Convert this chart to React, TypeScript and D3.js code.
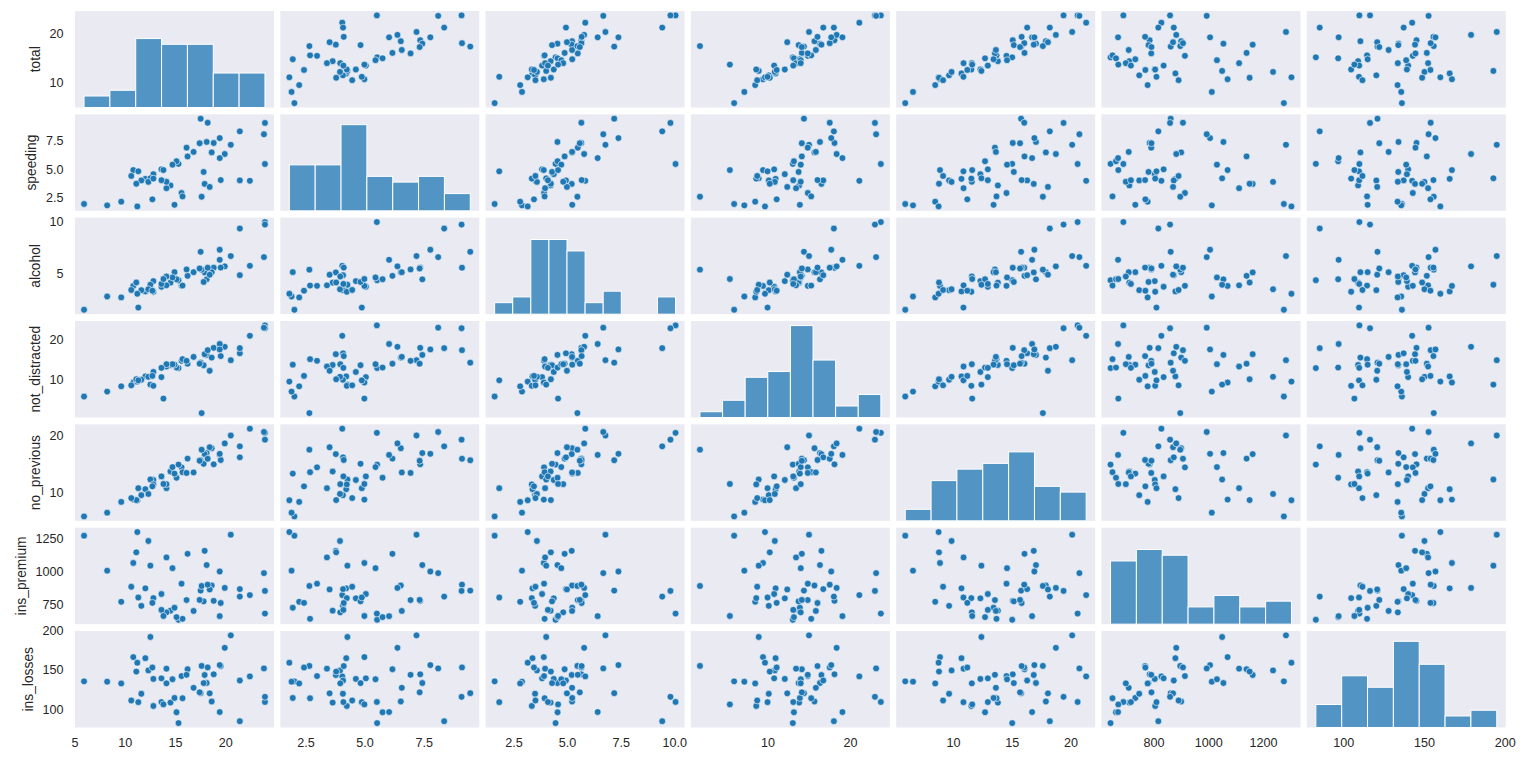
import React from "react";
import * as d3 from "d3";

const VARS = ["total", "speeding", "alcohol", "not_distracted", "no_previous", "ins_premium", "ins_losses"];

const total = [18.8, 18.1, 18.6, 22.4, 12.0, 13.6, 10.8, 16.2, 5.9, 17.9, 15.6, 17.5, 15.3, 12.8, 14.5, 15.7, 17.8, 21.4, 20.5, 15.1, 12.5, 8.2, 14.1, 9.6, 17.6, 16.1, 21.4, 14.9, 14.7, 11.6, 11.2, 18.4, 12.3, 16.8, 23.9, 14.1, 19.9, 12.8, 18.2, 11.1, 23.9, 19.4, 19.5, 19.4, 11.3, 13.6, 12.7, 10.6, 23.8, 13.8, 17.4];
const speeding = [7.332, 7.421, 6.51, 4.032, 4.2, 5.032, 4.968, 6.156, 2.006, 3.759, 2.964, 9.45, 5.508, 4.608, 3.625, 2.669, 4.806, 4.066, 7.175, 5.738, 4.25, 1.886, 3.384, 2.208, 2.64, 6.923, 8.346, 1.937, 5.439, 4.06, 1.792, 3.496, 3.936, 6.552, 5.497, 3.948, 6.368, 4.224, 9.1, 3.774, 9.082, 6.014, 4.095, 7.76, 4.859, 4.08, 2.413, 4.452, 8.092, 4.968, 7.308];
const alcohol = [5.64, 4.525, 5.208, 5.824, 3.36, 3.808, 3.888, 4.86, 1.593, 5.191, 3.9, 7.175, 4.437, 4.352, 4.205, 3.925, 4.272, 4.922, 6.765, 4.53, 4.0, 2.87, 3.948, 2.784, 5.456, 5.474, 9.416, 5.215, 4.704, 3.48, 3.136, 4.968, 3.567, 5.208, 10.038, 4.794, 5.771, 3.328, 5.642, 4.218, 9.799, 6.402, 5.655, 7.372, 1.808, 4.08, 3.429, 3.498, 6.664, 4.554, 5.568];
const notDistracted = [18.048, 16.29, 15.624, 21.056, 10.92, 10.744, 9.396, 14.094, 5.9, 16.468, 14.82, 14.35, 13.005, 12.032, 13.775, 15.229, 13.706, 16.692, 14.965, 13.137, 8.875, 7.134, 13.395, 8.448, 1.76, 14.812, 17.976, 13.857, 13.965, 10.092, 9.632, 12.328, 10.824, 15.792, 23.661, 13.959, 18.308, 8.576, 17.472, 10.212, 22.944, 19.012, 15.99, 17.654, 9.944, 13.056, 11.049, 8.692, 23.086, 5.382, 14.094];
const noPrevious = [15.04, 17.014, 17.856, 21.28, 10.68, 12.92, 8.856, 16.038, 5.9, 16.826, 14.508, 15.75, 14.994, 12.288, 13.775, 13.659, 15.13, 16.264, 20.09, 12.684, 12.375, 6.56, 10.857, 8.448, 17.6, 13.524, 18.19, 13.41, 14.553, 9.628, 8.736, 18.032, 9.84, 13.608, 20.554, 11.562, 18.706, 11.52, 16.016, 8.769, 19.359, 16.684, 15.795, 16.878, 10.848, 12.92, 11.176, 9.116, 20.706, 11.592, 15.66];
const insPremium = [784.55, 1053.48, 899.47, 827.34, 878.41, 835.5, 1068.73, 1137.87, 1273.89, 1160.13, 913.15, 861.18, 641.96, 803.11, 710.46, 649.06, 780.45, 872.51, 1281.55, 661.88, 1048.78, 1011.14, 1110.61, 777.18, 896.07, 790.32, 816.21, 732.28, 1029.87, 746.54, 1301.52, 869.85, 1234.31, 708.24, 688.75, 697.73, 881.51, 804.71, 905.99, 1148.99, 858.97, 669.31, 767.91, 1004.75, 809.38, 716.2, 768.95, 890.03, 992.61, 670.31, 791.14];
const insLosses = [145.08, 133.93, 110.35, 142.39, 165.63, 139.91, 167.02, 151.48, 136.05, 144.18, 142.8, 120.92, 82.75, 139.15, 108.92, 114.47, 133.8, 137.13, 194.78, 96.57, 192.7, 135.63, 152.26, 133.35, 155.77, 144.45, 85.15, 114.82, 138.71, 120.21, 159.85, 120.75, 150.01, 127.82, 109.72, 133.52, 178.86, 104.61, 153.86, 148.58, 116.29, 96.87, 155.57, 156.83, 109.48, 109.61, 153.72, 111.62, 152.56, 106.62, 122.04];

const COLUMNS = [total, speeding, alcohol, notDistracted, noPrevious, insPremium, insLosses];
const BIN_COUNTS = [7, 7, 10, 8, 7, 7, 7];

const X_TICKS = [[5, 10, 15, 20], [2.5, 5, 7.5], [2.5, 5, 7.5, 10], [10, 20], [10, 15, 20], [800, 1000, 1200], [100, 150, 200]];
const X_TICK_LABELS = [["5", "10", "15", "20"], ["2.5", "5.0", "7.5"], ["2.5", "5.0", "7.5", "10.0"], ["10", "20"], ["10", "15", "20"], ["800", "1000", "1200"], ["100", "150", "200"]];
const Y_TICKS = [[10, 20], [2.5, 5, 7.5], [5, 10], [10, 20], [10, 20], [750, 1000, 1250], [100, 150, 200]];
const Y_TICK_LABELS = [["10", "20"], ["2.5", "5.0", "7.5"], ["5", "10"], ["10", "20"], ["10", "20"], ["750", "1000", "1250"], ["100", "150", "200"]];

const W = 1536;
const H = 757;
const LEFT0 = 75;
const COL_PITCH = 205.3;
const COL_W = 199;
const TOP0 = 11;
const ROW_PITCH = 103.33;
const ROW_H = 96.5;
const BG = "#EAEAF2";
const BLUE = "#1f77b4";
const TEXT = "#262626";
const FONT = "Arial, 'Liberation Sans', sans-serif";
const FS = 12.6;
const LFS = 13.8;

function padDomain(v: number[]): [number, number] {
  const [mn, mx] = d3.extent(v) as [number, number];
  const p = (mx - mn) * 0.05;
  return [mn - p, mx + p];
}

function textWidth(s: string) {
  let w = 0;
  for (const c of s) w += c === "." ? 3.5 : 7;
  return w;
}

export default function App() {
  const n = VARS.length;
  const xScales = COLUMNS.map((v, j) =>
    d3.scaleLinear().domain(padDomain(v)).range([LEFT0 + j * COL_PITCH, LEFT0 + j * COL_PITCH + COL_W])
  );
  const yScales = COLUMNS.map((v, i) =>
    d3.scaleLinear().domain(padDomain(v)).range([TOP0 + i * ROW_PITCH + ROW_H, TOP0 + i * ROW_PITCH])
  );
  const hists = COLUMNS.map((v, j) => {
    const [mn, mx] = d3.extent(v) as [number, number];
    const k = BIN_COUNTS[j];
    const th = d3.range(1, k).map((i) => mn + (i * (mx - mn)) / k);
    return d3.bin().domain([mn, mx]).thresholds(th)(v);
  });
  const maxCount = d3.max(hists.flat(), (b) => b.length) as number;

  const panels: React.ReactNode[] = [];
  for (let i = 0; i < n; i++) {
    for (let j = 0; j < n; j++) {
      const x0 = LEFT0 + j * COL_PITCH;
      const y0 = TOP0 + i * ROW_PITCH;
      const xs = xScales[j];
      const ys = yScales[i];
      const key = `${i}-${j}`;
      let marks: React.ReactNode;
      if (i === j) {
        const hy = d3.scaleLinear().domain([0, maxCount * 1.05]).range([y0 + ROW_H, y0]);
        marks = hists[j].map((b, k) => (
          <rect
            key={k}
            x={xs(b.x0 as number)}
            y={hy(b.length)}
            width={xs(b.x1 as number) - xs(b.x0 as number)}
            height={hy(0) - hy(b.length)}
            fill={BLUE}
            fillOpacity={0.75}
            stroke="#ffffff"
            strokeWidth={1}
          />
        ));
      } else {
        const xv = COLUMNS[j];
        const yv = COLUMNS[i];
        marks = xv.map((xval, k) => (
          <circle key={k} cx={xs(xval)} cy={ys(yv[k])} r={3.4} fill={BLUE} stroke="#ffffff" strokeWidth={0.6} />
        ));
      }
      panels.push(
        <g key={key}>
          <rect x={x0} y={y0} width={COL_W} height={ROW_H} fill={BG} />
          {marks}
        </g>
      );
    }
  }

  const yAxes = VARS.map((name, i) => {
    const ys = yScales[i];
    const maxW = d3.max(Y_TICK_LABELS[i], (s) => textWidth(s)) as number;
    const cy = TOP0 + i * ROW_PITCH + ROW_H / 2;
    const lx = LEFT0 - 12 - maxW - 9;
    return (
      <g key={"ya" + i}>
        {Y_TICKS[i].map((t, k) => (
          <text key={k} x={LEFT0 - 11.5} y={ys(t)} textAnchor="end" dominantBaseline="central" fontSize={FS} fill={TEXT} fontFamily={FONT}>
            {Y_TICK_LABELS[i][k]}
          </text>
        ))}
        <text x={lx} y={cy} transform={`rotate(-90 ${lx} ${cy})`} textAnchor="middle" fontSize={LFS} fill={TEXT} fontFamily={FONT}>
          {name}
        </text>
      </g>
    );
  });

  const bottom = TOP0 + (n - 1) * ROW_PITCH + ROW_H;
  const xAxes = VARS.map((name, j) => {
    const xs = xScales[j];
    return (
      <g key={"xa" + j}>
        {X_TICKS[j].map((t, k) => (
          <text key={k} x={xs(t)} y={bottom + 19.8} textAnchor="middle" fontSize={FS} fill={TEXT} fontFamily={FONT}>
            {X_TICK_LABELS[j][k]}
          </text>
        ))}
      </g>
    );
  });

  return (
    <svg width={W} height={H} style={{ position: "absolute", left: 0, top: 0, background: "#ffffff" }}>
      <rect x={0} y={0} width={W} height={H} fill="#ffffff" />
      {panels}
      {yAxes}
      {xAxes}
    </svg>
  );
}
